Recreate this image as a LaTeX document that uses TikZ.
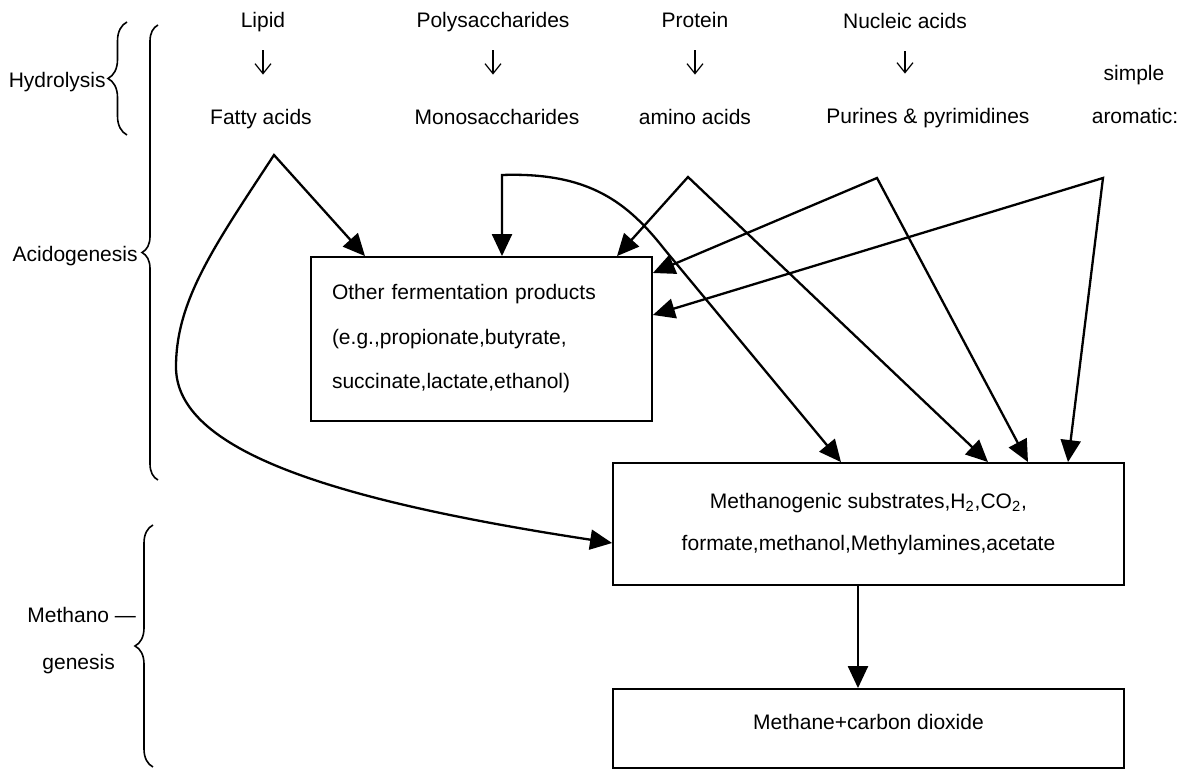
\documentclass[tikz,border=0pt]{standalone}
\usepackage{fontspec}
\setmainfont{Liberation Sans}
\usetikzlibrary{arrows.meta,decorations.pathreplacing}
\begin{document}
\begin{tikzpicture}[x=0.5pt,y=-0.5pt,
  >={Triangle[length=11pt,width=10pt]},
  lbl/.style={inner sep=0pt, anchor=base, font=\fontsize{10.5}{12}\selectfont, text height=7.7pt, text depth=2.2pt},
  box/.style={draw, line width=0.9pt, inner sep=0pt},
  con/.style={line width=1.15pt},
  smallarr/.style={line width=0.6pt, -{Straight Barb[length=5pt,width=8pt]}, shorten <=8.8pt, shorten >=17.3pt},
  brc/.style={line width=0.8pt, decorate, decoration={brace, amplitude=#1}},
]
\useasboundingbox (0,0) rectangle (1191,769);
\clip (0,0) rectangle (1191,769);

% top labels
\node[lbl] (lipid) at (263,28) {Lipid};
\node[lbl] (poly) at (493,28) {Polysaccharides};
\node[lbl] (protein) at (695,28) {Protein};
\node[lbl] (nucleic) at (905,29) {Nucleic acids};
\node[lbl] (simple) at (1134,81) {simple};
\node[lbl] (fatty) at (261,125) {Fatty acids};
\node[lbl] (mono) at (497,125) {Monosaccharides};
\node[lbl] (amino) at (695,125) {amino acids};
\node[lbl] (purines) at (928,124) {Purines \& pyrimidines};
\node[lbl] (aromatic) at (1135,124) {aromatic:};

\draw[smallarr] (lipid.south) -- (lipid.south |- fatty.north);
\draw[smallarr] (poly.south) -- (poly.south |- mono.north);
\draw[smallarr] (protein.south) -- (protein.south |- amino.north);
\draw[smallarr] (nucleic.south) -- (nucleic.south |- purines.north);

% stage labels and braces
\node[lbl, anchor=base east] (hyd) at (106,88) {Hydrolysis};
\node[lbl, anchor=base east] (acido) at (138,262) {Acidogenesis};
\node[lbl, anchor=base west] (methA) at (27,623) {Methano —};
\node[lbl, anchor=base west] (methB) at (42,670) {genesis};
\draw[brc=9.5pt] (127,135) -- (127,22);
\draw[brc=8pt] (158,480) -- (158,25);
\draw[brc=9pt] (153,767) -- (153,525);

% boxes
\node[box, minimum width=170.5pt, minimum height=82pt, text width=149.5pt, inner xsep=10.5pt, align=left,
      font=\fontsize{10.5}{22.25}\selectfont] (other) at (481.5,339)
  {Other fermentation products\\(e.g.,propionate,butyrate,\\succinate,lactate,ethanol)};
\node[box, minimum width=255.5pt, minimum height=61pt, align=center,
      font=\fontsize{10.5}{21}\selectfont] (meth) at (868.5,524)
  {Methanogenic substrates,H\textsubscript{2},CO\textsubscript{2},\\formate,methanol,Methylamines,acetate};
\node[box, minimum width=255.5pt, minimum height=39.5pt, font=\fontsize{10.5}{12}\selectfont,
      text height=7.7pt, text depth=6.2pt] (final) at (868.5,728.5) {Methane+carbon dioxide};

% branching points
\coordinate (fa) at (274,155);
\coordinate (mc) at (502,175);
\coordinate (aa) at (688,177);
\coordinate (na) at (877,178);
\coordinate (ra) at (1103,178);

% connectors
\draw[con,<->] (365,0 |- other.north) -- (fa)
  .. controls (215,245) and (176,300) .. (176,367)
  .. controls (176,450) and (330,500) .. (meth.west |- 0,543);
\draw[con,<->] (502,0 |- other.north) -- (mc)
  .. controls (590,172) and (628,203) .. (665,250) -- (841,0 |- meth.north);
\draw[con,<->] (617,0 |- other.north) -- (aa) -- (988,0 |- meth.north);
\draw[con,<->] (other.east |- 0,273) -- (na) -- (1028,0 |- meth.north);
\draw[con,<->] (other.east |- 0,315) -- (ra) -- (1068,0 |- meth.north);
\draw[con,->] (858,0 |- meth.south) -- (858,0 |- final.north);
\end{tikzpicture}
\end{document}
